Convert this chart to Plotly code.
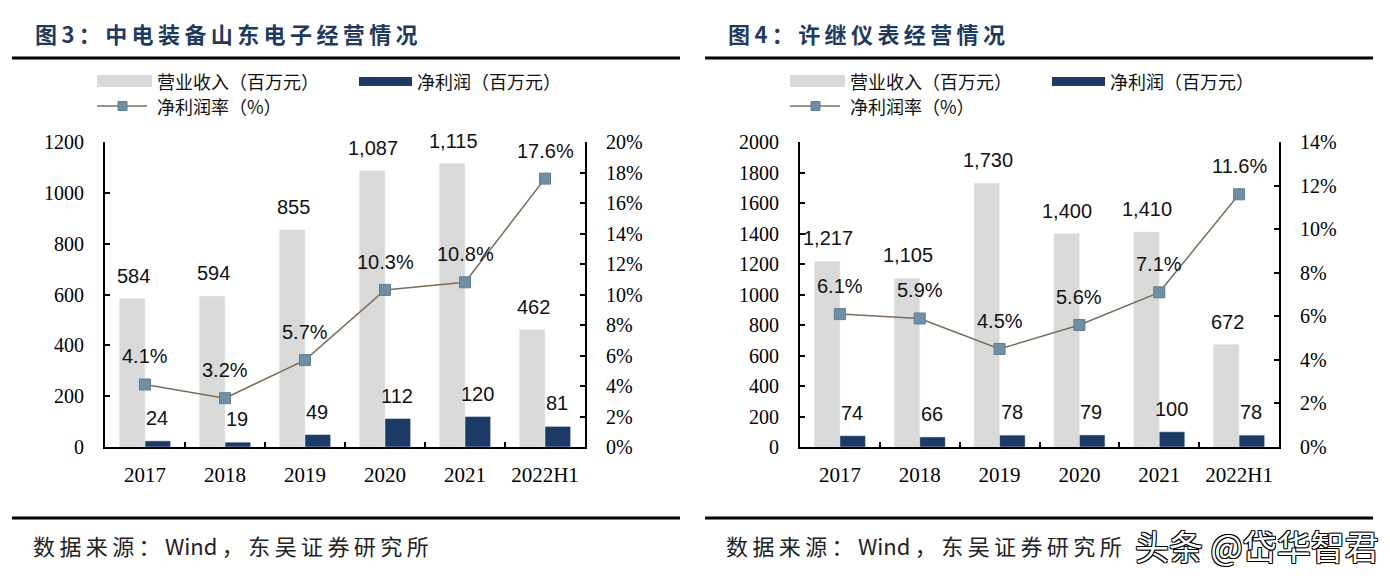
import plotly.graph_objects as go

W, H = 1390, 580

# ---------------- data ----------------
categories = ["2017", "2018", "2019", "2020", "2021", "2022H1"]

left_title = "图3：中电装备山东电子经营情况"
left_revenue = [584, 594, 855, 1087, 1115, 462]
left_profit = [24, 19, 49, 112, 120, 81]
left_margin = [4.1, 3.2, 5.7, 10.3, 10.8, 17.6]

right_title = "图4：许继仪表经营情况"
right_revenue = [1217, 1105, 1730, 1400, 1410, 672]
right_profit = [74, 66, 78, 79, 100, 78]
right_margin = [6.1, 5.9, 4.5, 5.6, 7.1, 11.6]

legend_names = ["营业收入（百万元）", "净利润（百万元）", "净利润率（%）"]
source_text = "数据来源：Wind，东吴证券研究所"
watermark = "头条 @岱华智君"

left_y_range, left_y_dtick = [0, 1200], 200
left_y2_range, left_y2_dtick = [0, 20], 2
right_y_range, right_y_dtick = [0, 2000], 200
right_y2_range, right_y2_dtick = [0, 14], 2

# ---------------- style ----------------
GRAY = "#D9D9D9"
NAVY = "#1B3A66"
LINE = "#7D6C58"
MARK = "#6F8FA5"
TITLE_C = "#1F3A5F"
SERIF = "Liberation Serif, Times New Roman, serif"
SANS = "Liberation Sans, Arial, sans-serif"
CJK = "Noto Sans CJK SC, sans-serif"
THIN = "\u2009"


def spaced(s, keep=("Wind",)):
    out, i = [], 0
    while i < len(s):
        for k in keep:
            if s.startswith(k, i):
                out.append(k)
                i += len(k)
                break
        else:
            out.append(s[i])
            i += 1
    return THIN.join(out)


def px(x):
    return x / W


def py(y):
    return 1 - y / H


fig = go.Figure()
annotations = []
LABEL_FONT = dict(family=SANS, size=20, color="#111")


def add_panel(rev, prof, marg, xa, ya, ya2):
    fig.add_trace(go.Bar(
        x=categories, y=rev, name=legend_names[0], marker_color=GRAY,
        xaxis=xa, yaxis=ya, showlegend=False, offsetgroup="a"))
    fig.add_trace(go.Bar(
        x=categories, y=prof, name=legend_names[1], marker_color=NAVY,
        xaxis=xa, yaxis=ya, showlegend=False, offsetgroup="b"))
    fig.add_trace(go.Scatter(
        x=categories, y=marg, name=legend_names[2], mode="lines+markers",
        line=dict(color=LINE, width=1.5),
        marker=dict(symbol="square", size=11, color=MARK,
                    line=dict(color="#5E7E93", width=1)),
        cliponaxis=False, xaxis=xa, yaxis=ya2, showlegend=False))
    # data labels: x given as category index (category axis)
    for i, v in enumerate(rev):
        annotations.append(dict(x=i, y=v, xref=xa, yref=ya, text=f"{v:,}",
                                showarrow=False, xshift=-12, yshift=23,
                                yanchor="middle", font=LABEL_FONT))
    for i, v in enumerate(prof):
        annotations.append(dict(x=i, y=v, xref=xa, yref=ya, text=f"{v:,}",
                                showarrow=False, xshift=12, yshift=23,
                                yanchor="middle", font=LABEL_FONT))
    for i, v in enumerate(marg):
        annotations.append(dict(x=i, y=v, xref=xa, yref=ya2, text=f"{v:.1f}%",
                                showarrow=False, yshift=28,
                                yanchor="middle", font=LABEL_FONT))


add_panel(left_revenue, left_profit, left_margin, "x", "y", "y2")
add_panel(right_revenue, right_profit, right_margin, "x2", "y3", "y4")

ydom = [(H - 447) / H, (H - 142) / H]
xrange = [-0.5, len(categories) - 0.5]


def ax(fs):
    return dict(showline=True, linecolor="black", linewidth=2,
                ticks="inside", ticklen=5, tickcolor="black", tickwidth=1.5,
                showgrid=False, zeroline=False,
                tickfont=dict(family=SERIF, size=fs, color="black"),
                automargin=False)


fig.update_layout(
    width=W, height=H,
    margin=dict(l=0, r=0, t=0, b=0),
    paper_bgcolor="white", plot_bgcolor="white",
    barmode="group", bargap=0.36, bargroupgap=0.0,
    showlegend=False,
    xaxis=dict(domain=[px(105), px(585)], anchor="y", type="category",
               range=xrange, tickson="boundaries", ticklabelstandoff=8, **ax(21)),
    yaxis=dict(domain=ydom, anchor="x", range=left_y_range, dtick=left_y_dtick,
               ticklabelstandoff=15, **ax(20)),
    yaxis2=dict(overlaying="y", side="right", anchor="x", range=left_y2_range,
                dtick=left_y2_dtick, ticksuffix="%", ticklabelstandoff=15, **ax(20)),
    xaxis2=dict(domain=[px(800), px(1279)], anchor="y3", type="category",
                range=xrange, tickson="boundaries", ticklabelstandoff=8, **ax(21)),
    yaxis3=dict(domain=ydom, anchor="x2", range=right_y_range, dtick=right_y_dtick,
                ticklabelstandoff=15, **ax(20)),
    yaxis4=dict(overlaying="y3", side="right", anchor="x2", range=right_y2_range,
                dtick=right_y2_dtick, ticksuffix="%", ticklabelstandoff=15, **ax(20)),
)

shapes = []

for ox, title in [(0, left_title), (693, right_title)]:
    annotations.append(dict(x=px(33 + ox), y=py(33), xref="paper", yref="paper",
                            text=f"<b>{spaced(title)}</b>", showarrow=False,
                            xanchor="left", yanchor="middle",
                            font=dict(family=CJK, size=22, color=TITLE_C)))
    for yy in (58, 518):
        shapes.append(dict(type="line", xref="paper", yref="paper",
                           x0=px(12 + ox), x1=px(680 + ox), y0=py(yy), y1=py(yy),
                           line=dict(color="black", width=3)))
    shapes.append(dict(type="rect", xref="paper", yref="paper",
                       x0=px(97 + ox), x1=px(152 + ox), y0=py(75), y1=py(87),
                       fillcolor=GRAY, line=dict(width=0)))
    shapes.append(dict(type="rect", xref="paper", yref="paper",
                       x0=px(359 + ox), x1=px(412 + ox), y0=py(77), y1=py(86),
                       fillcolor=NAVY, line=dict(width=0)))
    shapes.append(dict(type="line", xref="paper", yref="paper",
                       x0=px(97 + ox), x1=px(147 + ox), y0=py(106), y1=py(106),
                       line=dict(color=LINE, width=1.5)))
    shapes.append(dict(type="rect", xref="paper", yref="paper",
                       x0=px(118 + ox), x1=px(127 + ox), y0=py(101.5), y1=py(110.5),
                       fillcolor=MARK, line=dict(color="#5E7E93", width=1)))
    for tx, ty, t in [(155, 81, legend_names[0]), (415, 81, legend_names[1]),
                      (155, 106, legend_names[2])]:
        annotations.append(dict(x=px(tx + ox), y=py(ty), xref="paper", yref="paper",
                                text=t, showarrow=False, xanchor="left",
                                yanchor="middle",
                                font=dict(family=CJK, size=18, color="#111")))
    annotations.append(dict(x=px(31 + ox), y=py(545), xref="paper", yref="paper",
                            text=spaced(source_text), showarrow=False, xanchor="left",
                            yanchor="middle",
                            font=dict(family=CJK, size=22, color="#222")))

annotations.append(dict(x=px(1381), y=py(545), xref="paper", yref="paper",
                        text=watermark, showarrow=False, xanchor="right",
                        yanchor="middle",
                        font=dict(family=CJK, size=34, color="white",
                                  shadow="1px 1px 0 #000, -1px -1px 0 #000, 1px -1px 0 #000, -1px 1px 0 #000")))

fig.update_layout(shapes=shapes, annotations=annotations)
fig.write_html("out.html", config={"displayModeBar": False},
               post_script="document.body.style.margin='0';")
